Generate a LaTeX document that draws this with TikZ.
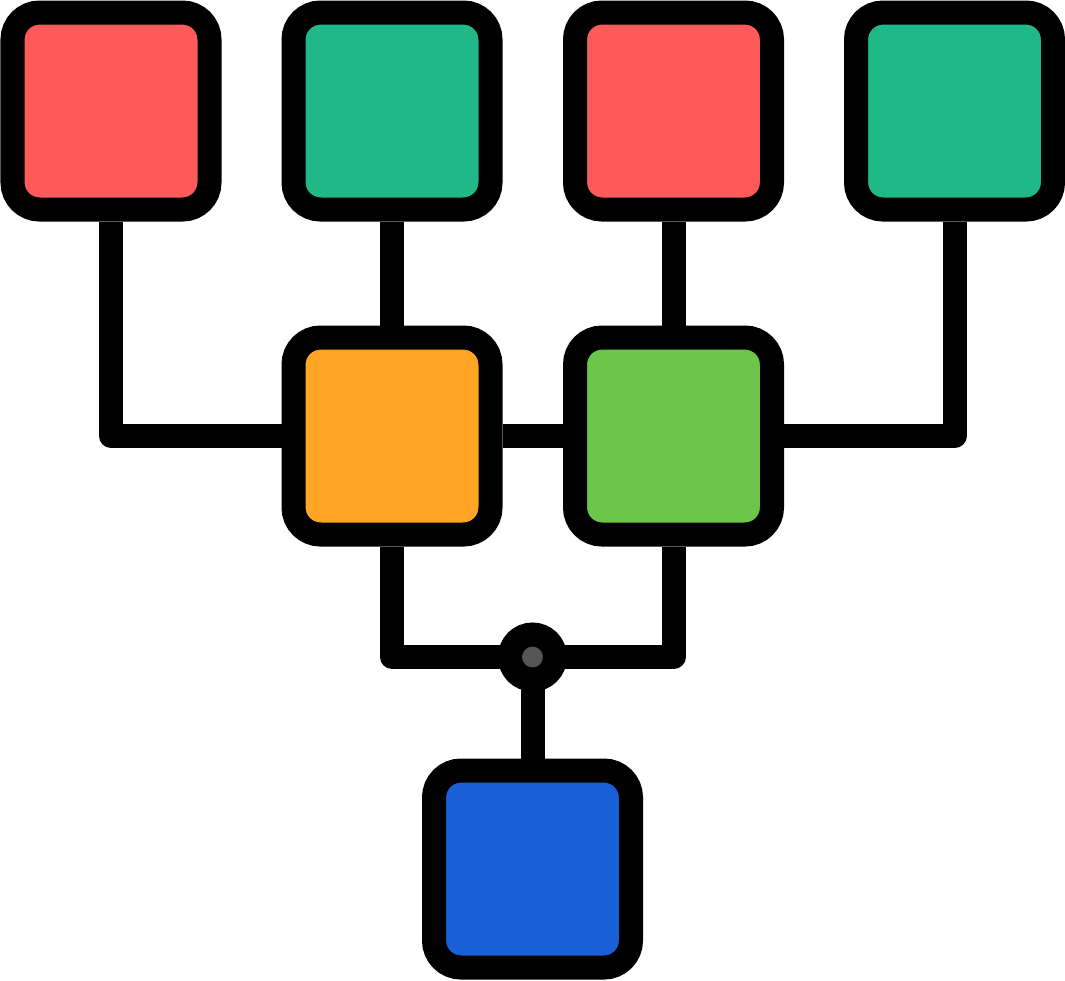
\documentclass[tikz,border=0pt]{standalone}
\usepackage{tikz}
\usetikzlibrary{calc}
\usetikzlibrary{positioning}
\usetikzlibrary{backgrounds}
\definecolor{red}{RGB}{255,90,90}
\definecolor{teal}{RGB}{33,184,136}
\definecolor{orange}{RGB}{255,165,35}
\definecolor{green}{RGB}{107,198,74}
\definecolor{blue}{RGB}{25,95,214}
\definecolor{hub}{RGB}{85,85,85}

\begin{document}
\begin{tikzpicture}[
  box/.style={rectangle,draw=black,line width=0.24cm,rounded corners=0.27cm,minimum size=1.97cm,inner sep=0pt,fill=#1},
  wire/.style={line width=0.24cm,line join=round},
  hubdot/.style={circle,draw=black,line width=0.24cm,fill=hub,minimum size=0.45cm,inner sep=0pt}]

\useasboundingbox (0,0) rectangle (10.65,-9.80);

% top row
\node [box=red](r1) at (1.11,-1.11) {};
\node [box=teal](t1) at (3.92,-1.11) {};
\node [box=red](r2) at (6.735,-1.11) {};
\node [box=teal](t2) at (9.545,-1.11) {};

% middle row
\node [box=orange](mo) at (3.92,-4.36) {};
\node [box=green](mg) at (6.735,-4.36) {};

\node [hubdot](jn) at (5.325,-6.57) {};

\node [box=blue](bl) at (5.325,-8.69) {};

\begin{scope}[on background layer]
\draw [wire] (r1.south) |- (mo.center);
\draw [wire] (t1.south) -- (mo.north);
\draw [wire] (r2.south) -- (mg.north);
\draw [wire] (t2.south) |- (mg.center);
\draw [wire] (mo.east) -- (mg.west);

\draw [wire] (mo.south) |- (jn.center) -| (mg.south);
\draw [wire] (jn.center) -- (bl.north);
\end{scope}

\end{tikzpicture}
\end{document}
